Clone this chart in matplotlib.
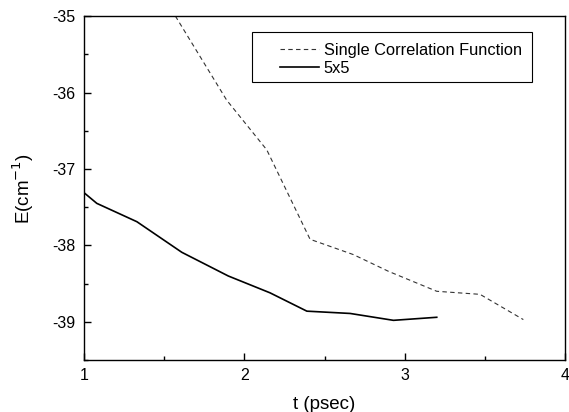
import numpy as np
import matplotlib.pyplot as plt
from matplotlib.ticker import MultipleLocator
from matplotlib.patches import Rectangle

plt.rcParams['font.family'] = ['Liberation Sans', 'DejaVu Sans']
plt.rcParams['axes.unicode_minus'] = False

# single correlation function (dashed)
t_single = [1.57, 1.89, 2.14, 2.41, 2.68, 2.90, 3.20, 3.47, 3.74]
e_single = [-35.0, -36.10, -36.75, -37.92, -38.12, -38.34, -38.60, -38.64, -38.97]

# 5x5 (solid)
t_5x5 = [1.0, 1.08, 1.33, 1.61, 1.90, 2.16, 2.39, 2.66, 2.93, 3.20]
e_5x5 = [-37.31, -37.45, -37.69, -38.09, -38.40, -38.62, -38.86, -38.89, -38.98, -38.94]

fig = plt.figure(figsize=(5.69, 4.12), dpi=100)
ax = fig.add_axes([0.1476, 0.126, 0.8454, 0.835])

ax.plot(t_single, e_single, color='#333333', linestyle=(0, (4, 3)), lw=0.8,
        label='Single Correlation Function')
ax.plot(t_5x5, e_5x5, color='black', linestyle='-', lw=1.2, label='5x5')

ax.set_xlim(1, 4)
ax.set_ylim(-39.5, -35)
ax.xaxis.set_major_locator(MultipleLocator(1))
ax.xaxis.set_minor_locator(MultipleLocator(0.5))
ax.yaxis.set_major_locator(MultipleLocator(1))
ax.yaxis.set_minor_locator(MultipleLocator(0.5))
ax.tick_params(which='both', direction='in', top=False, right=False,
               labelsize=11.5, width=1.0)
ax.tick_params(which='major', length=5, pad=6)
ax.tick_params(which='minor', length=3)
for s in ax.spines.values():
    s.set_linewidth(1.0)

ax.set_xlabel('t (psec)', fontsize=13.5, labelpad=9)
ax.set_ylabel(r'E(cm$^{-1}$)', fontsize=13.5, labelpad=12)

# legend frame drawn separately (wide left margin in the original)
ax.add_patch(Rectangle((0.349, 0.808), 0.582, 0.145, transform=ax.transAxes,
                       fill=False, edgecolor='black', lw=0.8, zorder=3))
leg = ax.legend(loc='upper left', bbox_to_anchor=(0.381, 0.96), fontsize=11.8,
                frameon=False, handlelength=2.35, handletextpad=0.3,
                borderpad=0.3, labelspacing=0.2)

plt.savefig('out.png', dpi=100)
